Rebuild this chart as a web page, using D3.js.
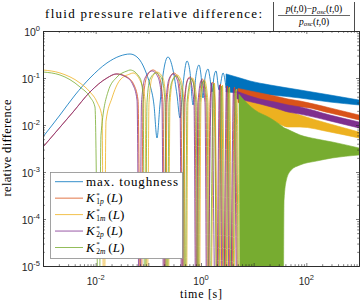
<!DOCTYPE html>
<html>
<head>
<meta charset="utf-8">
<script src="https://cdn.jsdelivr.net/npm/d3@7"></script>
<style>
  body { margin: 0; background: #fff; }
  svg { display: block; }
  .serif { font-family: "Liberation Serif", "DejaVu Serif", serif; fill: #000; }
  .ticklab { font-family: "Liberation Sans", Arial, sans-serif; fill: #262626; }
</style>
</head>
<body>
<script>
(function(){
//values (t in s, relative difference). 1e-7 marks a dip that runs off the bottom
var F = 1e-7;

//max. toughness
var tBlue = [0.001, 0.0021, 0.00406, 0.0078, 0.0164, 0.029, 0.0449, 0.0637, 0.0865, 0.1076, 0.128, 0.146, 0.166, 0.19, 0.236, 0.294, 0.35, 0.399, 0.455, 0.542, 0.618, 0.705, 0.804, 0.916, 1.0, 1.09, 1.19, 1.36, 1.48, 1.62, 1.77, 1.93, 2.2, 2.62, 2.99];
var vBlue = [0.0056, 0.0163, 0.0435, 0.1, 0.209, 0.294, 0.324, 0.267, 0.148, 0.071, 0.0267, 0.0053, 0.0267, 0.116, 0.28, 0.148, 0.0435, 0.0141, 0.071, 0.23, 0.134, 0.0267, 0.116, 0.189, 0.116, 0.0375, 0.1, 0.155, 0.1, 0.0504, 0.11, 0.141, 0.0556, 0.128, 0.0613];
var tBlueBand = [2.99, 5.5, 8.51, 20.4, 75.8, 281, 1000];
var hiBlue = [0.122, 0.1, 0.0863, 0.071, 0.0556, 0.0435, 0.034];
var loBlue = [0.0504, 0.048, 0.0457, 0.0435, 0.0375, 0.0308, 0.0267];

//K*_1p(L)
var tK1p = [0.001, 0.00372, 0.0078, 0.0164, 0.0254, 0.0394, 0.0535, 0.0637, 0.0726,
            0.0793, 0.0944, 0.1227, 0.159, 0.19, 0.207,
            0.226, 0.258, 0.307, 0.366, 0.417, 0.455,
            0.497, 0.542, 0.618, 0.705, 0.769, 0.839,
            0.916, 1.07, 1.245, 1.36,
            1.48, 1.65, 1.85, 2.01,
            2.34, 2.74, 3.18, 3.71, 4.33, 5.04];
var vK1p = [0.0034, 0.0189, 0.0504, 0.1, 0.122, 0.105, 0.071, 0.034, F,
            0.03, 0.11, 0.148, 0.11, 0.03, F,
            0.03, 0.1, 0.128, 0.1, 0.03, F,
            0.03, 0.085, 0.105, 0.085, 0.03, F,
            0.03, 0.095, 0.03, F,
            0.03, 0.082, 0.03, F,
            0.0745, F, 0.0677, F, 0.0644, F];
var tK1pBand = [5.04, 13.2, 25.4, 44.9, 75.8, 281, 1000];
var hiK1p = [0.06, 0.048, 0.0413, 0.0357, 0.0324, 0.0231, 0.0163];
var loK1p = [0.03, 0.0254, 0.0242, 0.0242, 0.0242, 0.018, 0.0128];

//K*_1m(L)
var tK1m = [0.001, 0.0021, 0.00504, 0.0078, 0.0106, 0.0132, 0.0144,
            0.0157, 0.0204, 0.029, 0.0449, 0.0512, 0.0759, 0.0865, 0.0944,
            0.103, 0.1175, 0.146, 0.19, 0.216, 0.236,
            0.258, 0.294, 0.35, 0.417, 0.475, 0.519,
            0.566, 0.69, 0.839, 0.916,
            1.0, 1.16, 1.36, 1.48,
            1.80, 2.2,
            2.56, 2.99, 3.47, 4.05, 4.72, 5.5];
var vK1m = [0.148, 0.128, 0.0783, 0.0504, 0.0308, 0.015, F,
            0.012, 0.0375, 0.0906, 0.122, 0.128, 0.071, 0.034, F,
            0.03, 0.1, 0.134, 0.1, 0.03, F,
            0.03, 0.09, 0.116, 0.09, 0.03, F,
            0.03, 0.1, 0.03, F,
            0.03, 0.0906, 0.03, F,
            0.078, F,
            0.071, F, 0.0644, F, 0.0583, F];
var tK1mBand = [5.5, 13.2, 25.4, 44.9, 75.8, 281, 1000];
var hiK1m = [0.0435, 0.0324, 0.0267, 0.0199, 0.0163, 0.0105, 0.0071];
var loK1m = [0.0163, 0.0141, 0.0116, 0.00906, 0.00906, 0.0071, 0.00529];

//K*_2p(L)
var tK2p = [0.001, 0.00372, 0.0078, 0.0164, 0.0243, 0.0377, 0.0512, 0.061, 0.068,
            0.0742, 0.0865, 0.1175, 0.1525, 0.1815, 0.198,
            0.216, 0.247, 0.294, 0.35, 0.399, 0.435,
            0.475, 0.592, 0.736, 0.804,
            0.877, 1.02, 1.19, 1.30,
            1.58, 1.93,
            2.24, 2.62, 3.05, 3.55, 4.14, 4.82];
var vK2p = [0.0034, 0.0189, 0.0504, 0.1, 0.122, 0.105, 0.071, 0.034, F,
            0.03, 0.1, 0.141, 0.105, 0.03, F,
            0.03, 0.095, 0.122, 0.095, 0.03, F,
            0.03, 0.1, 0.03, F,
            0.03, 0.0906, 0.03, F,
            0.078, F,
            0.071, F, 0.0677, F, 0.0613, F];
var tK2pBand = [4.82, 13.2, 25.4, 44.9, 75.8, 281, 1000];
var hiK2p = [0.052, 0.0357, 0.0308, 0.0267, 0.0242, 0.0163, 0.0116];
var loK2p = [0.036, 0.028, 0.023, 0.0189, 0.0171, 0.0122, 0.00863];

//K*_2m(L)
var tK2m = [0.001, 0.0021, 0.00504, 0.0078, 0.0097, 0.01156,
            0.0126, 0.0171, 0.0254, 0.0394, 0.0449, 0.0695, 0.0793, 0.0865,
            0.0944, 0.1076, 0.14, 0.1815, 0.207, 0.226,
            0.247, 0.281, 0.335, 0.399, 0.455, 0.497,
            0.542, 0.66, 0.804, 0.877,
            0.957, 1.114, 1.30, 1.42,
            1.73, 2.10,
            2.45, 2.86, 3.33, 3.87, 4.52, 5.26];
var vK2m = [0.134, 0.116, 0.0644, 0.0394, 0.0242, F,
            0.006, 0.0504, 0.105, 0.141, 0.148, 0.1, 0.0435, F,
            0.03, 0.095, 0.128, 0.095, 0.03, F,
            0.03, 0.085, 0.11, 0.085, 0.03, F,
            0.03, 0.095, 0.03, F,
            0.03, 0.086, 0.03, F,
            0.0745, F,
            0.0675, F, 0.0613, F, 0.0556, F];
var tK2mBand = [5.26, 5.8, 10.5, 20.4, 36.1, 37.7, 41.8, 51.5, 75.8, 155, 310, 1000];
var hiK2m = [0.045, 0.0394, 0.0209, 0.0141, 0.00906, 0.0087, 0.0083, 0.00745, 0.00613, 0.00504, 0.00435, 0.00324];
var loK2m = [0.045, F, F, F, F, 0.00025, 0.00068, 0.0011, 0.00141, 0.00171, 0.00199, 0.0023];

//legend and tick text
var seriesNames = ["max. toughness", "K1p", "K1m", "K2p", "K2m"];
var seriesSubs = ["", "1p", "1m", "2p", "2m"];
var colors = ["#0072BD", "#D95319", "#EDB120", "#7E2F8E", "#77AC30"];
var xLabelPowers = [-2, 0, 2];
var yLabelPowers = [0, -1, -2, -3, -4, -5];

var lines = [d3.zip(tBlue, vBlue), d3.zip(tK1p, vK1p), d3.zip(tK1m, vK1m), d3.zip(tK2p, vK2p), d3.zip(tK2m, vK2m)];
var bands = [d3.zip(tBlueBand, hiBlue, loBlue), d3.zip(tK1pBand, hiK1p, loK1p), d3.zip(tK1mBand, hiK1m, loK1m),
             d3.zip(tK2pBand, hiK2p, loK2p), d3.zip(tK2mBand, hiK2m, loK2m)];

//frame
var width = 360, height = 304;
var left = 43, right = 359, top = 31, bottom = 266;

var svg = d3.select("body").append("svg")
    .attr("width", width)
    .attr("height", height);

var x = d3.scaleLog().domain([1e-3, 1e3]).range([left, right]);
var y = d3.scaleLog().domain([1e-5, 1]).range([bottom, top]);

svg.append("clipPath").attr("id", "plotclip")
    .append("rect")
    .attr("x", left).attr("y", top)
    .attr("width", right - left).attr("height", bottom - top);

var plot = svg.append("g").attr("clip-path", "url(#plotclip)");

var line = d3.line()
    .x(function(d){ return x(d[0]); })
    .y(function(d){ return y(d[1]); })
    .curve(d3.curveMonotoneX);

var area = d3.area()
    .x(function(d){ return x(d[0]); })
    .y1(function(d){ return y(d[1]); })
    .y0(function(d){ return y(d[2]); })
    .curve(d3.curveMonotoneX);

//draw each series in MATLAB plot order (later ones on top)
lines.forEach(function(pts, i){
    plot.append("path")
        .datum(bands[i])
        .attr("d", area)
        .attr("fill", colors[i])
        .attr("stroke", colors[i])
        .attr("stroke-width", 0.6);
    plot.append("path")
        .datum(pts)
        .attr("d", line)
        .attr("fill", "none")
        .attr("stroke", colors[i])
        .attr("stroke-width", 0.8);
});

//axes: decades and minor ticks on all four sides, pointing inward
var xMajor = d3.range(-3, 4).map(function(p){ return Math.pow(10, p); });
var yMajor = d3.range(-5, 1).map(function(p){ return Math.pow(10, p); });
var xMinor = [], yMinor = [];
d3.range(-3, 3).forEach(function(p){ for (var k = 2; k < 10; k++) xMinor.push(k * Math.pow(10, p)); });
d3.range(-5, 0).forEach(function(p){ for (var k = 2; k < 10; k++) yMinor.push(k * Math.pow(10, p)); });

function addAxis(gen, tx, ty, vals, size){
    svg.append("g")
        .attr("transform", "translate(" + tx + "," + ty + ")")
        .attr("color", "#262626")
        .call(gen.tickValues(vals).tickSize(-size).tickSizeOuter(0).tickFormat(""))
        .selectAll("line").attr("stroke-width", 0.6);
}
addAxis(d3.axisBottom(x), 0, bottom, xMajor, 3);
addAxis(d3.axisBottom(x), 0, bottom, xMinor, 1.8);
addAxis(d3.axisTop(x), 0, top, xMajor, 3);
addAxis(d3.axisTop(x), 0, top, xMinor, 1.8);
addAxis(d3.axisLeft(y), left, 0, yMajor, 3);
addAxis(d3.axisLeft(y), left, 0, yMinor, 1.8);
addAxis(d3.axisRight(y), right, 0, yMajor, 3);
addAxis(d3.axisRight(y), right, 0, yMinor, 1.8);
svg.selectAll(".domain").attr("stroke-width", 0.8);

//tick labels 10^p
xLabelPowers.forEach(function(p){
    var t = svg.append("text").attr("class", "ticklab")
        .attr("x", x(Math.pow(10, p))).attr("y", 284.5)
        .attr("text-anchor", "middle");
    t.append("tspan").attr("font-size", 10).text("10");
    t.append("tspan").attr("font-size", 7.5).attr("dy", -4.5).text(String(p));
});
yLabelPowers.forEach(function(p){
    var t = svg.append("text").attr("class", "ticklab")
        .attr("x", 40).attr("y", y(Math.pow(10, p)) + 4.5)
        .attr("text-anchor", "end");
    t.append("tspan").attr("font-size", 10.5).text("10");
    t.append("tspan").attr("font-size", 7.5).attr("dy", -4.5).text(String(p));
});

//axis labels
svg.append("text").attr("class", "serif")
    .attr("x", 201).attr("y", 297.5)
    .attr("text-anchor", "middle")
    .attr("font-size", 12)
    .attr("textLength", 42)
    .text("time [s]");
svg.append("text").attr("class", "serif")
    .attr("transform", "translate(11,148) rotate(-90)")
    .attr("text-anchor", "middle")
    .attr("font-size", 12.5)
    .attr("textLength", 97)
    .text("relative difference");

//title
svg.append("text").attr("class", "serif")
    .attr("x", 45).attr("y", 17.5)
    .attr("font-size", 13)
    .attr("textLength", 217)
    .text("fluid pressure relative difference:");

var frac = svg.append("g").attr("class", "serif");
var num = frac.append("text").attr("x", 314).attr("y", 12).attr("text-anchor", "middle").attr("font-size", 9.5);
num.append("tspan").attr("font-style", "italic").text("p");
num.append("tspan").text("(");
num.append("tspan").attr("font-style", "italic").text("t");
num.append("tspan").text(",0)\u2212");
num.append("tspan").attr("font-style", "italic").text("p");
num.append("tspan").attr("font-style", "italic").attr("font-size", 7).attr("dy", 1.8).text("osc");
num.append("tspan").attr("dy", -1.8).text("(");
num.append("tspan").attr("font-style", "italic").text("t");
num.append("tspan").text(",0)");
var den = frac.append("text").attr("x", 314).attr("y", 24.5).attr("text-anchor", "middle").attr("font-size", 9.5);
den.append("tspan").attr("font-style", "italic").text("p");
den.append("tspan").attr("font-style", "italic").attr("font-size", 7).attr("dy", 1.8).text("osc");
den.append("tspan").attr("dy", -1.8).text("(");
den.append("tspan").attr("font-style", "italic").text("t");
den.append("tspan").text(",0)");
frac.append("line").attr("x1", 278).attr("x2", 350).attr("y1", 15.5).attr("y2", 15.5)
    .attr("stroke", "#000").attr("stroke-width", 0.6);
[273.5, 354.5].forEach(function(bx){
    frac.append("line").attr("x1", bx).attr("x2", bx).attr("y1", 2).attr("y2", 31)
        .attr("stroke", "#000").attr("stroke-width", 0.7);
});

//legend
var legend = svg.append("g");
legend.append("rect")
    .attr("x", 50.5).attr("y", 172.5)
    .attr("width", 132).attr("height", 86)
    .attr("fill", "#fff")
    .attr("stroke", "#8c8c8c")
    .attr("stroke-width", 0.8);

seriesNames.forEach(function(name, i){
    var cy = 181.7 + i * 16.45;
    legend.append("line")
        .attr("x1", 55).attr("x2", 83)
        .attr("y1", cy).attr("y2", cy)
        .attr("stroke", colors[i]).attr("stroke-width", 0.8);
    var t = legend.append("text").attr("class", "serif")
        .attr("x", 86).attr("y", cy + 4)
        .attr("font-size", 13);
    if (i === 0){
        t.attr("textLength", 92).text(name);
    } else {
        var sub = seriesSubs[i];
        t.append("tspan").attr("font-style", "italic").text("K");
        t.append("tspan").attr("font-size", 7).attr("dx", 1.5).attr("dy", -5.5).text("*");
        t.append("tspan").attr("font-size", 7.5).attr("dx", -3.5).attr("dy", 7.5).text(sub[0]);
        t.append("tspan").attr("font-size", 7.5).attr("font-style", "italic").text(sub[1]);
        t.append("tspan").attr("dx", 3).attr("dy", -2).text("(");
        t.append("tspan").attr("font-style", "italic").text("L");
        t.append("tspan").text(")");
    }
});
})();
</script>
</body>
</html>
